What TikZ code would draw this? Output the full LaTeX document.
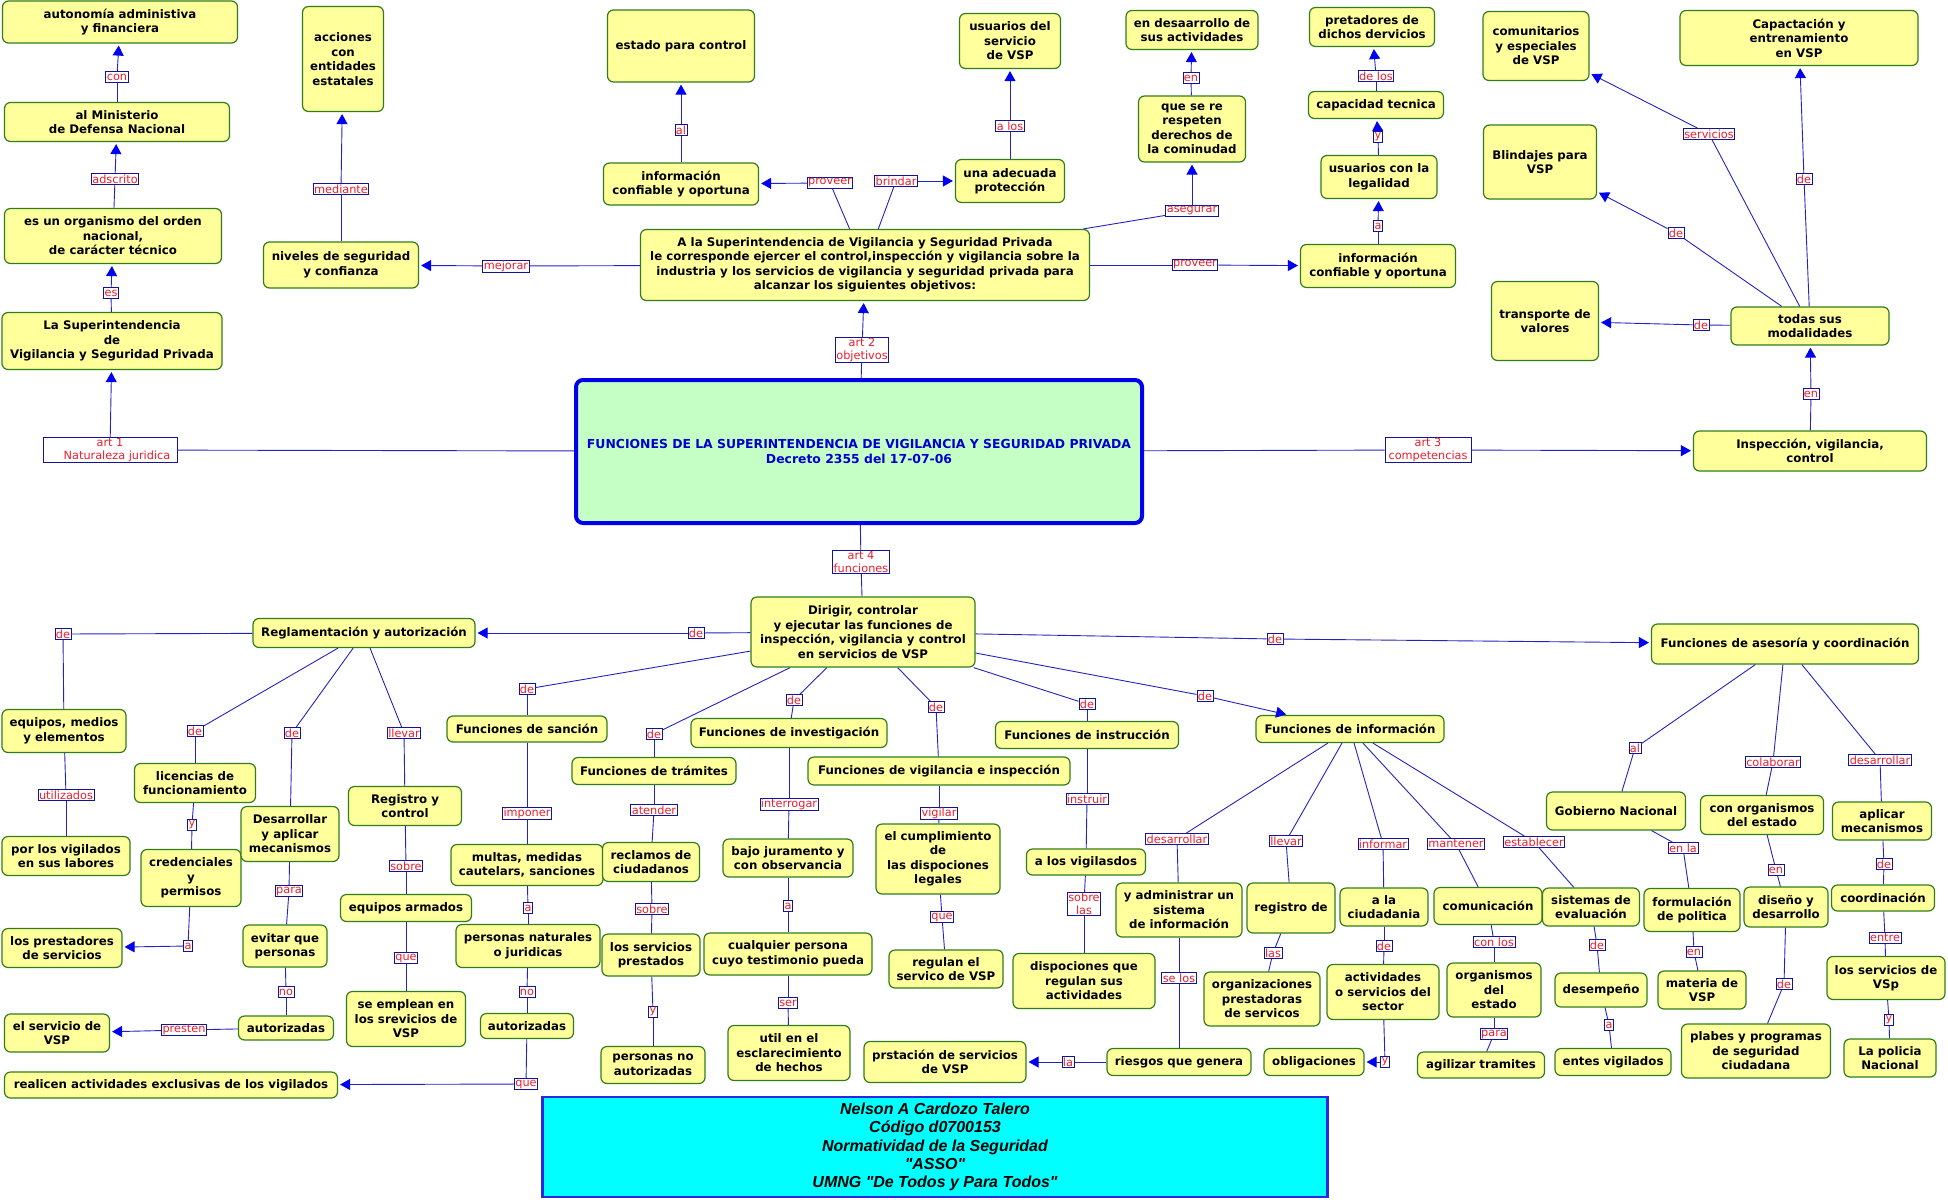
\documentclass[tikz,border=0pt]{standalone}
\usepackage{fontspec}
\setmainfont{DejaVu Sans}
\newfontfamily\authorfont{Liberation Sans}
\usetikzlibrary{arrows.meta}
\definecolor{concept fill}{RGB}{255,255,156}
\definecolor{concept border}{RGB}{50,125,25}
\definecolor{link border}{RGB}{20,20,150}
\definecolor{link red}{RGB}{235,30,45}
\definecolor{line blue}{RGB}{35,35,190}
\definecolor{arrow blue}{RGB}{0,0,240}
\definecolor{main fill}{RGB}{198,255,198}
\definecolor{main border}{RGB}{0,0,235}
\definecolor{main text}{RGB}{0,0,205}
\definecolor{author border}{RGB}{40,40,230}
\definecolor{author fill}{RGB}{0,255,255}
\tikzset{
    concept/.style={draw=concept border, fill=concept fill, rounded corners=6pt, line width=1.2pt, align=center, inner sep=1pt, font=\bfseries\fontsize{11.8}{14.5}\selectfont},
    linkword/.style={draw=link border, fill=white, text=link red, line width=0.8pt, inner xsep=1pt, inner ysep=0.6pt, minimum height=11pt, align=center, font=\fontsize{11.3}{13}\selectfont},
    mainbox/.style={draw=main border, fill=main fill, line width=4pt, rounded corners=7pt, align=center, text=main text, font=\bfseries\fontsize{12.4}{15}\selectfont},
    authorbox/.style={draw=author border, fill=author fill, line width=2.5pt, align=center, font=\authorfont\bfseries\itshape\fontsize{16}{18.25}\selectfont},
    cline/.style={draw=line blue, line width=0.9pt},
    arr/.style={cline, -{Triangle[length=10pt,width=11pt,color=arrow blue]}, shorten >=2pt},
}

\begin{document}
\begin{tikzpicture}[x=1pt,y=-1pt]
    \useasboundingbox (0,0) rectangle (1948,1199);

    \node[mainbox, minimum width=566, minimum height=143] (main) at (859,451.5) {FUNCIONES DE LA SUPERINTENDENCIA DE VIGILANCIA Y SEGURIDAD PRIVADA\\Decreto 2355 del 17-07-06};

    % art 1
    \node[concept, minimum width=235, minimum height=42] (autonomia) at (120,22) {autonomía administiva\\y financiera};
    \node[concept, minimum width=225, minimum height=39] (minis) at (117,122) {al Ministerio\\de Defensa Nacional};
    \node[concept, minimum width=217, minimum height=55] (organ) at (113,236) {es un organismo del orden\\nacional,\\de carácter técnico};
    \node[concept, minimum width=220, minimum height=57] (superv) at (112,341) {La Superintendencia\\de\\Vigilancia y Seguridad Privada};

    % art 2
    \node[concept, minimum width=449, minimum height=71] (objetivos) at (865,265) {A la Superintendencia de Vigilancia y Seguridad Privada\\le corresponde ejercer el control,inspección y vigilancia sobre la\\industria y los servicios de vigilancia y seguridad privada para\\alcanzar los siguientes objetivos:};
    \node[concept, minimum width=81, minimum height=105] (acciones) at (343,59) {acciones\\con\\entidades\\estatales};
    \node[concept, minimum width=155, minimum height=46] (niveles) at (341,265) {niveles de seguridad\\y confianza};
    \node[concept, minimum width=147, minimum height=72] (estado) at (681,46) {estado para control};
    \node[concept, minimum width=155, minimum height=42] (infoL) at (681,184) {información\\confiable y oportuna};
    \node[concept, minimum width=109, minimum height=43] (proteccion) at (1010,181) {una adecuada\\protección};
    \node[concept, minimum width=101, minimum height=55] (usuarios) at (1010,41) {usuarios del\\servicio\\de VSP};
    \node[concept, minimum width=107, minimum height=66] (respeten) at (1192,129) {que se re\\respeten\\derechos de\\la cominudad};
    \node[concept, minimum width=132, minimum height=39] (desarrollo) at (1192,30) {en desaarrollo de\\sus actividades};
    \node[concept, minimum width=155, minimum height=43] (infoR) at (1378,266) {información\\confiable y oportuna};
    \node[concept, minimum width=116, minimum height=43] (legalidad) at (1379,177) {usuarios con la\\legalidad};
    \node[concept, minimum width=135, minimum height=27] (capacidad) at (1376,105) {capacidad tecnica};
    \node[concept, minimum width=125, minimum height=39] (pretadores) at (1372,27) {pretadores de\\dichos dervicios};

    % art 3
    \node[concept, minimum width=233, minimum height=40] (inspeccion) at (1810,451) {Inspección, vigilancia,\\control};
    \node[concept, minimum width=158, minimum height=38] (modalidades) at (1810,326) {todas sus\\modalidades};
    \node[concept, minimum width=106, minimum height=69] (comunit) at (1536,46) {comunitarios\\y especiales\\de VSP};
    \node[concept, minimum width=238, minimum height=55] (capacit) at (1799,38) {Capactación y\\entrenamiento\\en VSP};
    \node[concept, minimum width=113, minimum height=74] (blindajes) at (1540,162) {Blindajes para\\VSP};
    \node[concept, minimum width=107, minimum height=79] (transporte) at (1545,321) {transporte de\\valores};

    % art 4
    \node[concept, minimum width=224, minimum height=70] (dirigir) at (863,632) {Dirigir, controlar\\y ejecutar las funciones de\\inspección, vigilancia y control\\en servicios de VSP};
    \node[concept, minimum width=222, minimum height=29] (regla) at (364,633) {Reglamentación y autorización};
    \node[concept, minimum width=267, minimum height=40] (asesoria) at (1785,644) {Funciones de asesoría y coordinación};
    \node[concept, minimum width=160, minimum height=26] (sancion) at (527,729) {Funciones de sanción};
    \node[concept, minimum width=164, minimum height=27] (tramites) at (654,771) {Funciones de trámites};
    \node[concept, minimum width=196, minimum height=29] (investig) at (789,733) {Funciones de investigación};
    \node[concept, minimum width=262, minimum height=28] (vigilancia) at (939,771) {Funciones de vigilancia e inspección};
    \node[concept, minimum width=183, minimum height=27] (instruc) at (1087,735) {Funciones de instrucción};
    \node[concept, minimum width=188, minimum height=27] (informac) at (1350,729) {Funciones de información};

    \node[concept, minimum width=124, minimum height=43] (equipos) at (64,731) {equipos, medios\\y elementos};
    \node[concept, minimum width=121, minimum height=39] (licencias) at (195,783) {licencias de\\funcionamiento};
    \node[concept, minimum width=113, minimum height=39] (registro) at (405,806) {Registro y\\control};
    \node[concept, minimum width=128, minimum height=39] (porlos) at (66,856) {por los vigilados\\en sus labores};
    \node[concept, minimum width=100, minimum height=57] (credenc) at (191,878) {credenciales\\y\\permisos};
    \node[concept, minimum width=120, minimum height=39] (prestad) at (62,948) {los prestadores\\de servicios};
    \node[concept, minimum width=98, minimum height=55] (mecanis) at (290,834) {Desarrollar\\y aplicar\\mecanismos};
    \node[concept, minimum width=84, minimum height=42] (evitar) at (285,946) {evitar que\\personas};
    \node[concept, minimum width=95, minimum height=24] (autorizL) at (286,1028) {autorizadas};
    \node[concept, minimum width=105, minimum height=38] (servicioVSP) at (57,1033) {el servicio de\\VSP};
    \node[concept, minimum width=131, minimum height=27] (armados) at (406,908) {equipos armados};
    \node[concept, minimum width=119, minimum height=55] (emplean) at (406,1019) {se emplean en\\los srevicios de\\VSP};
    \node[concept, minimum width=333, minimum height=26] (realicen) at (171,1085) {realicen actividades exclusivas de los vigilados};

    \node[concept, minimum width=152, minimum height=41] (multas) at (527,865) {multas, medidas\\cautelars, sanciones};
    \node[concept, minimum width=144, minimum height=43] (personasNJ) at (528,946) {personas naturales\\o juridicas};
    \node[concept, minimum width=93, minimum height=25] (autorizM) at (527,1026) {autorizadas};
    \node[concept, minimum width=97, minimum height=39] (reclamos) at (651,862) {reclamos de\\ciudadanos};
    \node[concept, minimum width=98, minimum height=42] (serviciosP) at (651,955) {los servicios\\prestados};
    \node[concept, minimum width=104, minimum height=37] (personasNo) at (653,1065) {personas no\\autorizadas};
    \node[concept, minimum width=130, minimum height=38] (juramento) at (788,858) {bajo juramento y\\con observancia};
    \node[concept, minimum width=168, minimum height=42] (cualquier) at (788,954) {cualquier persona\\cuyo testimonio pueda};
    \node[concept, minimum width=122, minimum height=55] (util) at (789,1053) {util en el\\esclarecimiento\\de hechos};
    \node[concept, minimum width=124, minimum height=70] (cumplim) at (938,859) {el cumplimiento\\de\\las dispociones\\legales};
    \node[concept, minimum width=114, minimum height=38] (regulan) at (946,969) {regulan el\\servico de VSP};
    \node[concept, minimum width=119, minimum height=26] (vigilados) at (1086,862) {a los vigilasdos};
    \node[concept, minimum width=142, minimum height=55] (dispoc) at (1084,981) {dispociones que\\regulan sus\\actividades};
    \node[concept, minimum width=162, minimum height=41] (prstacion) at (945,1062) {prstación de servicios\\de VSP};

    \node[concept, minimum width=126, minimum height=54] (administrar) at (1179,910) {y administrar un\\sistema\\de información};
    \node[concept, minimum width=144, minimum height=27] (riesgos) at (1179,1062) {riesgos que genera};
    \node[concept, minimum width=88, minimum height=50] (registroDe) at (1291,908) {registro de};
    \node[concept, minimum width=116, minimum height=54] (organiz) at (1262,999) {organizaciones\\prestadoras\\de servicos};
    \node[concept, minimum width=88, minimum height=38] (ciudadania) at (1384,907) {a la\\ciudadania};
    \node[concept, minimum width=112, minimum height=55] (actividades) at (1383,992) {actividades\\o servicios del\\sector};
    \node[concept, minimum width=100, minimum height=27] (obligac) at (1314,1062) {obligaciones};
    \node[concept, minimum width=108, minimum height=37] (comunic) at (1488,906) {comunicación};
    \node[concept, minimum width=94, minimum height=54] (organismosE) at (1494,990) {organismos\\del\\estado};
    \node[concept, minimum width=127, minimum height=26] (agilizar) at (1481,1065) {agilizar tramites};
    \node[concept, minimum width=97, minimum height=38] (sistemas) at (1591,907) {sistemas de\\evaluación};
    \node[concept, minimum width=92, minimum height=34] (desempeno) at (1601,990) {desempeño};
    \node[concept, minimum width=116, minimum height=27] (entes) at (1613,1062) {entes vigilados};

    \node[concept, minimum width=139, minimum height=38] (gobierno) at (1616,811) {Gobierno Nacional};
    \node[concept, minimum width=123, minimum height=39] (conorg) at (1762,815) {con organismos\\del estado};
    \node[concept, minimum width=99, minimum height=38] (aplicar) at (1882,821) {aplicar\\mecanismos};
    \node[concept, minimum width=96, minimum height=43] (formul) at (1692,910) {formulación\\de politica};
    \node[concept, minimum width=84, minimum height=40] (diseno) at (1786,907) {diseño y\\desarrollo};
    \node[concept, minimum width=103, minimum height=26] (coord) at (1883,898) {coordinación};
    \node[concept, minimum width=88, minimum height=38] (materia) at (1702,990) {materia de\\VSP};
    \node[concept, minimum width=149, minimum height=54] (plabes) at (1756,1051) {plabes y programas\\de seguridad\\ciudadana};
    \node[concept, minimum width=118, minimum height=43] (serviciosVSp) at (1886,978) {los servicios de\\VSp};
    \node[concept, minimum width=92, minimum height=38] (policia) at (1890,1058) {La policia\\Nacional};

    \node[authorbox, minimum width=785, minimum height=100] (autor) at (935,1147) {Nelson A Cardozo Talero\\Código d0700153\\Normatividad de la Seguridad\\"ASSO"\\UMNG "De Todos y Para Todos"};

    % palabras de enlace
    \node[linkword] (lCon) at (117,77) {con};
    \node[linkword] (lAdscrito) at (115,179) {adscrito};
    \node[linkword] (lEs) at (111,293) {es};
    \node[linkword, minimum width=134] (lArt1) at (110,450) {art 1\\\hspace*{14pt}Naturaleza juridica};
    \node[linkword] (lMediante) at (341,189) {mediante};
    \node[linkword] (lMejorar) at (506,266) {mejorar};
    \node[linkword] (lAl) at (681,130) {al};
    \node[linkword] (lProveerL) at (830,183) {proveer};
    \node[linkword] (lBrindar) at (896,181) {brindar};
    \node[linkword] (lAlos) at (1010,126) {a los};
    \node[linkword] (lAsegurar) at (1192,211) {asegurar};
    \node[linkword] (lEnD) at (1191,78) {en};
    \node[linkword] (lProveerR) at (1195,265) {proveer};
    \node[linkword] (lA) at (1378,226) {a};
    \node[linkword] (lY) at (1378,137) {y};
    \node[linkword] (lDelos) at (1376,76) {de los};
    \node[linkword] (lArt2) at (862,350) {art 2\\objetivos};
    \node[linkword] (lServicios) at (1709,134) {servicios};
    \node[linkword] (lDeB) at (1676,233) {de};
    \node[linkword] (lDeC) at (1804,179) {de};
    \node[linkword] (lDeT) at (1701,325) {de};
    \node[linkword] (lEnM) at (1811,394) {en};
    \node[linkword, minimum width=86] (lArt3) at (1428,450) {art 3\\competencias};
    \node[linkword] (lArt4) at (861,562) {art 4\\funciones};

    \node[linkword] (lDeRegla) at (696,633) {de};
    \node[linkword] (lDeAses) at (1275,639) {de};
    \node[linkword] (lDeSanc) at (527,689) {de};
    \node[linkword] (lDeTram) at (654,734) {de};
    \node[linkword] (lDeInv) at (794,700) {de};
    \node[linkword] (lDeVig) at (936,707) {de};
    \node[linkword] (lDeInstr) at (1087,704) {de};
    \node[linkword] (lDeInfo) at (1205,696) {de};
    \node[linkword] (lDeEq) at (63,634) {de};
    \node[linkword] (lDeLic) at (195,731) {de};
    \node[linkword] (lDeMec) at (292,733) {de};
    \node[linkword] (lLlevarR) at (404,733) {llevar};
    \node[linkword] (lUtiliz) at (66,795) {utilizados};
    \node[linkword] (lYcred) at (192,825) {y};
    \node[linkword] (lAprest) at (188,946) {a};
    \node[linkword] (lPara) at (289,891) {para};
    \node[linkword] (lNoL) at (286,992) {no};
    \node[linkword] (lPresten) at (184,1030) {presten};
    \node[linkword] (lSobreR) at (406,866) {sobre};
    \node[linkword] (lQueR) at (406,958) {que};
    \node[linkword] (lImponer) at (527,813) {imponer};
    \node[linkword] (lAmult) at (528,908) {a};
    \node[linkword] (lNoM) at (527,992) {no};
    \node[linkword] (lQueM) at (526,1084) {que};
    \node[linkword] (lAtender) at (654,810) {atender};
    \node[linkword] (lSobreT) at (652,909) {sobre};
    \node[linkword] (lYT) at (653,1012) {y};
    \node[linkword] (lInterrogar) at (789,804) {interrogar};
    \node[linkword] (lAI) at (788,906) {a};
    \node[linkword] (lSer) at (788,1003) {ser};
    \node[linkword] (lVigilar) at (939,813) {vigilar};
    \node[linkword] (lQueV) at (942,917) {que};
    \node[linkword] (lInstruir) at (1087,799) {instruir};
    \node[linkword] (lSobreLas) at (1084,904) {sobre\\las};
    \node[linkword] (lDesarrollarI) at (1177,839) {desarrollar};
    \node[linkword] (lSeLos) at (1179,978) {se los};
    \node[linkword] (lLa) at (1068,1062) {la};
    \node[linkword] (lLlevarI) at (1286,841) {llevar};
    \node[linkword] (lLas) at (1273,953) {las};
    \node[linkword] (lInformar) at (1383,844) {informar};
    \node[linkword] (lDeCiud) at (1384,946) {de};
    \node[linkword] (lYOblig) at (1385,1062) {y};
    \node[linkword] (lMantener) at (1456,844) {mantener};
    \node[linkword] (lConLos) at (1494,942) {con los};
    \node[linkword] (lParaA) at (1494,1034) {para};
    \node[linkword] (lEstablecer) at (1534,842) {establecer};
    \node[linkword] (lDeSist) at (1597,945) {de};
    \node[linkword] (lAdes) at (1609,1025) {a};
    \node[linkword] (lAlG) at (1635,748) {al};
    \node[linkword] (lColaborar) at (1773,762) {colaborar};
    \node[linkword] (lDesarrollarA) at (1880,760) {desarrollar};
    \node[linkword] (lEnLa) at (1683,848) {en la};
    \node[linkword] (lEnCon) at (1776,870) {en};
    \node[linkword] (lDeApl) at (1884,864) {de};
    \node[linkword] (lEntre) at (1885,938) {entre};
    \node[linkword] (lYpol) at (1889,1020) {y};
    \node[linkword] (lEnForm) at (1694,952) {en};
    \node[linkword] (lDeDis) at (1784,984) {de};

    % enlaces con flecha
    \foreach \from/\via/\to in {superv/lEs/organ, organ/lAdscrito/minis, minis/lCon/autonomia, main/lArt1/superv,
        objetivos/lMejorar/niveles, niveles/lMediante/acciones, objetivos/lProveerL/infoL, infoL/lAl/estado,
        objetivos/lBrindar/proteccion, proteccion/lAlos/usuarios, objetivos/lAsegurar/respeten, respeten/lEnD/desarrollo,
        objetivos/lProveerR/infoR, infoR/lA/legalidad, legalidad/lY/capacidad, capacidad/lDelos/pretadores,
        main/lArt2/objetivos, main/lArt3/inspeccion, inspeccion/lEnM/modalidades,
        modalidades/lServicios/comunit, modalidades/lDeB/blindajes, modalidades/lDeC/capacit, modalidades/lDeT/transporte,
        dirigir/lDeRegla/regla, dirigir/lDeAses/asesoria, dirigir/lDeInfo/informac,
        credenc/lAprest/prestad, autorizL/lPresten/servicioVSP, autorizM/lQueM/realicen,
        riesgos/lLa/prstacion, actividades/lYOblig/obligac}{
        \draw[cline] (\from) -- (\via);
        \draw[arr] (\via) -- (\to);
    }

    % enlaces sin flecha
    \foreach \from/\via/\to in {main/lArt4/dirigir, dirigir/lDeSanc/sancion, dirigir/lDeTram/tramites,
        dirigir/lDeInv/investig, dirigir/lDeVig/vigilancia, dirigir/lDeInstr/instruc,
        regla/lDeEq/equipos, regla/lDeLic/licencias, regla/lDeMec/mecanis, regla/lLlevarR/registro,
        equipos/lUtiliz/porlos, licencias/lYcred/credenc, mecanis/lPara/evitar, evitar/lNoL/autorizL,
        registro/lSobreR/armados, armados/lQueR/emplean,
        sancion/lImponer/multas, multas/lAmult/personasNJ, personasNJ/lNoM/autorizM,
        tramites/lAtender/reclamos, reclamos/lSobreT/serviciosP, serviciosP/lYT/personasNo,
        investig/lInterrogar/juramento, juramento/lAI/cualquier, cualquier/lSer/util,
        vigilancia/lVigilar/cumplim, cumplim/lQueV/regulan,
        instruc/lInstruir/vigilados, vigilados/lSobreLas/dispoc,
        informac/lDesarrollarI/administrar, administrar/lSeLos/riesgos,
        informac/lLlevarI/registroDe, registroDe/lLas/organiz,
        informac/lInformar/ciudadania, ciudadania/lDeCiud/actividades,
        informac/lMantener/comunic, comunic/lConLos/organismosE, organismosE/lParaA/agilizar,
        informac/lEstablecer/sistemas, sistemas/lDeSist/desempeno, desempeno/lAdes/entes,
        asesoria/lAlG/gobierno, gobierno/lEnLa/formul, formul/lEnForm/materia,
        asesoria/lColaborar/conorg, conorg/lEnCon/diseno, diseno/lDeDis/plabes,
        asesoria/lDesarrollarA/aplicar, aplicar/lDeApl/coord, coord/lEntre/serviciosVSp, serviciosVSp/lYpol/policia}{
        \draw[cline] (\from) -- (\via);
        \draw[cline] (\via) -- (\to);
    }
\end{tikzpicture}
\end{document}
